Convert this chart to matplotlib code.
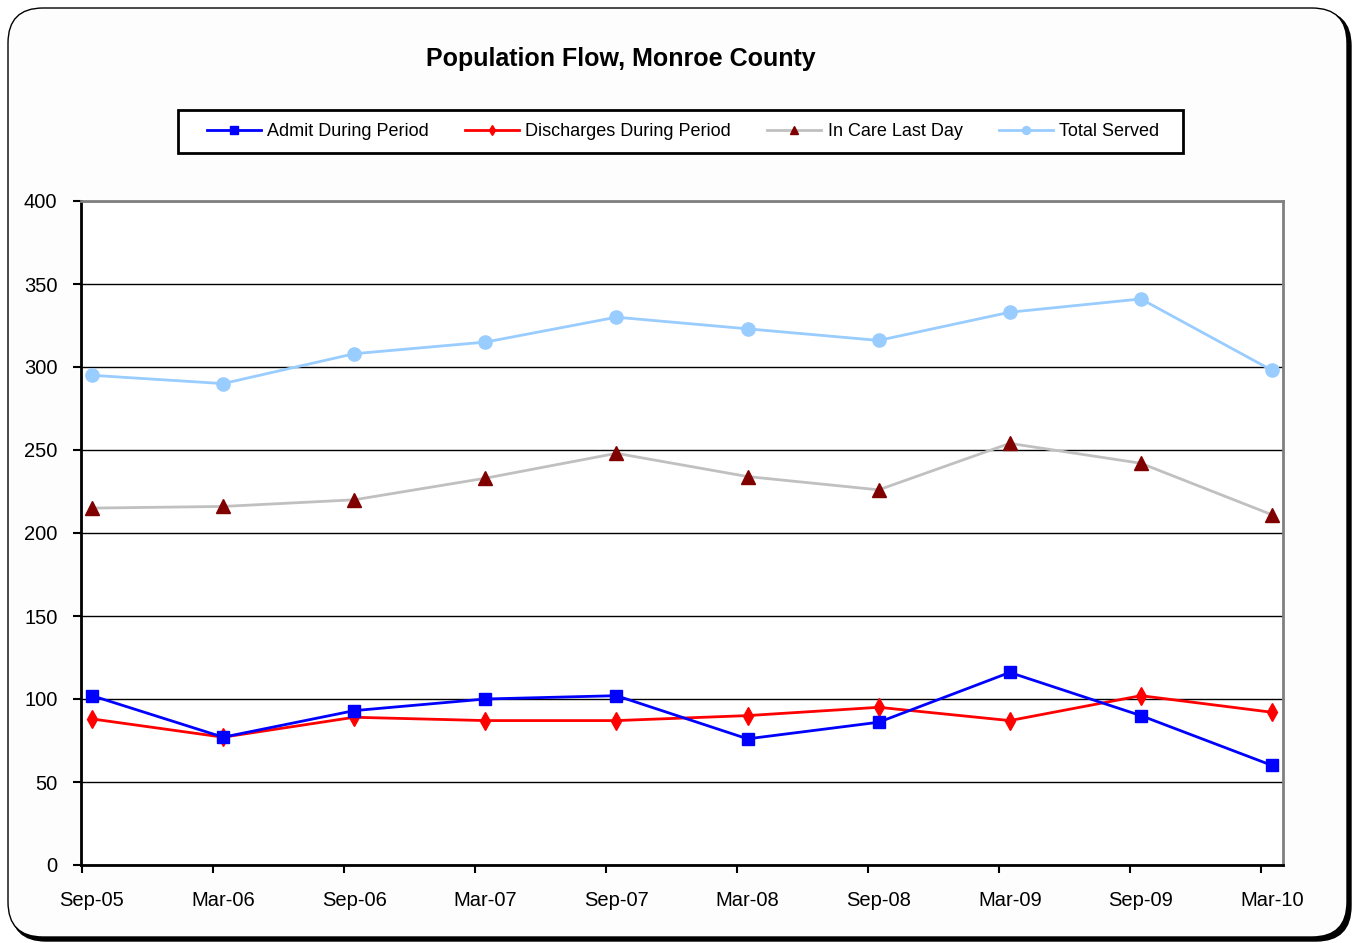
import numpy as np
import matplotlib
matplotlib.use("Agg")
import matplotlib.pyplot as plt
from matplotlib.patches import FancyBboxPatch, Rectangle

plt.rcParams['font.family'] = ['Liberation Sans', 'DejaVu Sans']

# data
periods = ['Sep-05', 'Mar-06', 'Sep-06', 'Mar-07', 'Sep-07',
           'Mar-08', 'Sep-08', 'Mar-09', 'Sep-09', 'Mar-10']
admit = [102, 77, 93, 100, 102, 76, 86, 116, 90, 60]
discharges = [88, 77, 89, 87, 87, 90, 95, 87, 102, 92]
in_care = [215, 216, 220, 233, 248, 234, 226, 254, 242, 211]
total_served = [295, 290, 308, 315, 330, 323, 316, 333, 341, 298]

W, H = 1356, 943
fig = plt.figure(figsize=(W / 100, H / 100), dpi=100)
fig.patch.set_facecolor('white')

# rounded chart border with a dark shadow on right/bottom
shadow = FancyBboxPatch((0.11, 0.02), 13.40, 9.30,
                        boxstyle="round,pad=0,rounding_size=0.35",
                        transform=fig.dpi_scale_trans, facecolor='black',
                        edgecolor='black', lw=1, zorder=0)
frame = FancyBboxPatch((0.08, 0.06), 13.39, 9.29,
                       boxstyle="round,pad=0,rounding_size=0.35",
                       transform=fig.dpi_scale_trans, facecolor='#fdfdfd',
                       edgecolor='black', lw=1, zorder=1)
fig.add_artist(shadow)
fig.add_artist(frame)

# plot area in pixels: x 81..1283, y 201..865
ax = fig.add_axes([81 / W, (H - 865) / H, (1283 - 81) / W, (865 - 201) / H])
ax.set_facecolor('white')
ax.set_zorder(2)

x = np.arange(len(periods))
ax.plot(x, admit, color='#0000ff', lw=2, marker='s', ms=9,
        label='Admit During Period', zorder=5)
ax.plot(x, discharges, color='#ff0000', lw=2, marker='d', ms=9,
        label='Discharges During Period', zorder=4)
ax.plot(x, in_care, color='#c0c0c0', lw=2, marker='^', ms=10,
        mfc='#800000', mec='#800000', label='In Care Last Day', zorder=3)
ax.plot(x, total_served, color='#99ccff', lw=2, marker='o', ms=9.5,
        label='Total Served', zorder=3)

ax.set_ylim(0, 400)
ax.set_yticks(np.arange(0, 401, 50))
ax.yaxis.grid(True, color='black', lw=1)
ax.set_axisbelow(True)

ax.set_xlim(-0.084, len(periods) - 1 + 0.084)
ax.set_xticks(x)
ax.set_xticklabels(periods)
ax.set_xticks(x - 0.08, minor=True)
ax.tick_params(axis='x', which='major', length=0, pad=19, labelsize=14.5)
ax.tick_params(axis='x', which='minor', length=6, width=1.5, direction='out')
ax.tick_params(axis='y', length=6, width=1.5, direction='out', pad=11,
               labelsize=14.5)

ax.spines['left'].set_linewidth(2)
ax.spines['bottom'].set_linewidth(2)
ax.spines['top'].set_color('#808080')
ax.spines['right'].set_color('#808080')
ax.spines['top'].set_linewidth(2)
ax.spines['right'].set_linewidth(2)

fig.text(621 / W, 1 - 59 / H, 'Population Flow, Monroe County',
         ha='center', va='center', fontsize=18, fontweight='bold', zorder=3)

# legend box
fig.add_artist(Rectangle((178 / W, 1 - 153 / H), (1183 - 178) / W, 43 / H,
                         transform=fig.transFigure, facecolor='white',
                         edgecolor='black', lw=2, zorder=2))
handles, labels = ax.get_legend_handles_labels()
leg = fig.legend(handles, labels, loc='center', ncol=4,
                 bbox_to_anchor=(683 / W, 1 - 131.5 / H), frameon=False,
                 fontsize=13, handlelength=3.0, handletextpad=0.35,
                 columnspacing=2.0, markerscale=0.6)
leg.set_zorder(3)

fig.savefig('out.png', dpi=100)
